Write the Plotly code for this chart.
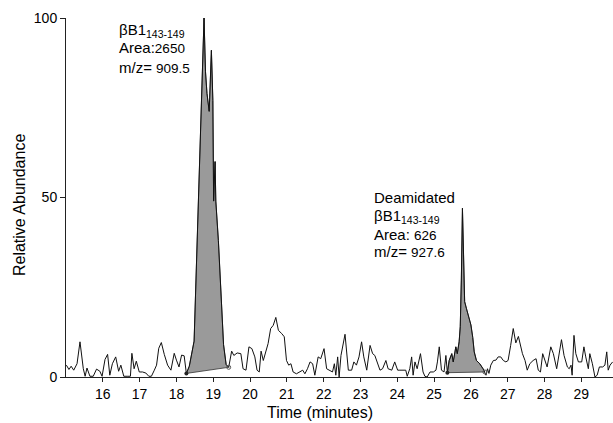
import plotly.graph_objects as go

# ---- data ----
time = [
    15.01, 15.08, 15.14, 15.21, 15.30, 15.38, 15.47, 15.52, 15.57, 15.65, 15.74, 15.83, 15.92, 15.98,
    16.06, 16.13, 16.19, 16.26, 16.35, 16.43, 16.49, 16.57, 16.66, 16.75, 16.79, 16.85, 16.91, 16.99,
    17.08, 17.17, 17.25, 17.32, 17.40, 17.46, 17.52, 17.59, 17.67, 17.76, 17.85, 17.94, 18.00, 18.07,
    18.14, 18.21, 18.27,
    18.35, 18.48, 18.55, 18.62, 18.68, 18.75, 18.79, 18.83, 18.89, 18.95, 18.99, 19.01, 19.05, 19.07,
    19.14, 19.20, 19.25, 19.28, 19.35, 19.42,
    19.50, 19.56, 19.65, 19.75, 19.81, 19.89, 19.97, 20.05, 20.13, 20.19, 20.25, 20.30, 20.36, 20.43,
    20.49, 20.56, 20.63, 20.70, 20.77, 20.86, 20.93, 20.99, 21.05, 21.11, 21.17, 21.26, 21.35, 21.43,
    21.49, 21.56, 21.63, 21.70, 21.76, 21.85, 21.92, 22.01, 22.08, 22.17, 22.24, 22.29, 22.33, 22.38,
    22.42, 22.47, 22.58, 22.67, 22.76, 22.82, 22.89, 22.96, 23.03, 23.09, 23.17, 23.26, 23.33, 23.39,
    23.45, 23.53, 23.60, 23.69, 23.75, 23.85, 23.93, 24.01, 24.07, 24.16, 24.23, 24.27, 24.34, 24.39,
    24.43, 24.48, 24.54, 24.63, 24.70, 24.75, 24.81, 24.89, 24.98, 25.05, 25.09, 25.14, 25.20, 25.27,
    25.32, 25.36,
    25.41, 25.48, 25.52, 25.59, 25.63, 25.68, 25.71, 25.74, 25.77, 25.80, 25.83, 25.88, 25.95, 26.00,
    26.05, 26.09, 26.15, 26.24, 26.33, 26.38,
    26.41, 26.45, 26.49, 26.54, 26.61, 26.68, 26.74, 26.81, 26.88, 26.95, 27.01, 27.08, 27.15, 27.22,
    27.29, 27.40, 27.47, 27.53, 27.60, 27.69, 27.77, 27.83, 27.89, 27.95, 28.01, 28.07, 28.17, 28.24,
    28.33, 28.40, 28.46, 28.53, 28.62, 28.67, 28.72, 28.75, 28.80, 28.85, 28.92, 29.01, 29.07, 29.12,
    29.19, 29.23, 29.30, 29.37, 29.43, 29.49, 29.58, 29.64, 29.69, 29.73, 29.78, 29.85,
]
abundance = [
    3.3, 2.1, 3.0, 1.9, 3.7, 9.8, 2.3, 0.2, 2.5, 0.2, 0.2, 2.2, 1.6, 0.2,
    4.9, 6.3, 0.5, 3.7, 5.6, 1.6, 3.3, 0.2, 0.2, 0.2, 6.6, 2.3, 4.4, 1.4,
    1.4, 1.1, 0.2, 0.2, 1.9, 3.3, 8.0, 9.6, 6.3, 3.3, 1.9, 6.6, 4.7, 2.8,
    6.1, 5.9, 1.0,
    3.0, 10.0, 33.0, 57.0, 78.0, 100.0, 85.0, 79.0, 74.0, 91.0, 77.0, 49.0, 60.0, 49.0,
    38.0, 27.0, 18.0, 9.0, 3.5, 2.7,
    7.2, 6.0, 6.7, 6.5, 2.3, 1.9, 8.4, 7.9, 5.6, 1.9, 1.4, 7.2, 4.6, 7.4,
    9.3, 13.5, 14.4, 16.6, 13.0, 12.1, 11.2, 4.6, 3.3, 3.7, 1.4, 0.9, 1.4, 1.9,
    0.9, 2.3, 4.2, 3.7, 0.5, 5.6, 5.1, 7.9, 2.3, 1.9, 1.4, 3.7, 0.5, 5.6,
    0.0, 6.0, 11.9, 1.9, 1.9, 4.2, 3.3, 5.6, 9.8, 5.6, 1.9, 8.8, 6.5, 6.0,
    4.2, 1.9, 2.3, 4.6, 2.3, 1.9, 4.2, 1.9, 1.9, 1.9, 1.9, 0.2, 2.3, 5.6,
    0.5, 4.2, 2.3, 6.5, 1.4, 0.2, 0.0, 1.4, 1.4, 1.9, 4.2, 8.4, 1.9, 1.4,
    6.0, 1.2,
    4.6, 6.5, 4.2, 8.4, 6.5, 9.8, 14.0, 27.0, 47.0, 34.0, 21.0, 19.0, 16.7, 14.5,
    11.0, 7.0, 4.6, 3.7, 2.3, 1.4,
    0.5, 2.3, 1.0, 3.3, 4.6, 4.7, 5.6, 5.6, 4.6, 4.2, 4.6, 8.8, 13.5, 9.5,
    11.3, 6.5, 4.6, 1.9, 3.7, 4.6, 5.1, 1.9, 1.4, 6.5, 4.6, 2.8, 8.4, 6.5,
    2.3, 6.5, 10.4, 6.0, 2.8, 2.3, 3.3, 0.5, 11.6, 6.5, 4.2, 4.2, 8.4, 5.6,
    2.3, 6.5, 3.7, 0.0, 0.5, 2.8, 2.8, 3.3, 7.0, 1.9, 3.3, 4.2,
]
peak_start = [18.27, 25.36]
peak_end = [19.42, 26.38]
x_ticks = list(range(16, 30))
y_ticks = [0, 50, 100]

FONT = "Arial, Liberation Sans, sans-serif"

fig = go.Figure()

# shaded integrated peaks
for s, e in zip(peak_start, peak_end):
    xs = [t for t in time if s <= t <= e]
    ys = [a for t, a in zip(time, abundance) if s <= t <= e]
    xs.append(xs[0])
    ys.append(ys[0])
    fig.add_trace(go.Scatter(x=xs, y=ys, mode="lines", fill="toself",
                             fillcolor="#9a9a9a", line=dict(color="#333", width=0.8),
                             hoverinfo="skip", showlegend=False))

# full chromatogram trace
fig.add_trace(go.Scatter(x=time, y=abundance, mode="lines",
                         line=dict(color="#111", width=1), showlegend=False))

# peak boundary markers
start_y = [abundance[time.index(s)] for s in peak_start]
end_y = [abundance[time.index(e)] for e in peak_end]
fig.add_trace(go.Scatter(x=peak_start, y=start_y, mode="markers",
                         marker=dict(size=4, color="#222", symbol="circle"),
                         showlegend=False, cliponaxis=False))
fig.add_trace(go.Scatter(x=peak_end, y=end_y, mode="markers",
                         marker=dict(size=4, color="#555", symbol="circle-open", line=dict(width=1)),
                         showlegend=False, cliponaxis=False))

def ann(text, x, y, size=15, **kw):
    d = dict(text=text, x=x, y=y, xref="paper", yref="paper", showarrow=False,
             xanchor="left", yanchor="middle", font=dict(family=FONT, size=size, color="black"))
    d.update(kw)
    return d

annotations = [
    ann("βB1<sub>143-149</sub>", 0.0932, 0.966),
    ann("Area:<span style='font-size:13.5px'>2650</span>", 0.0932, 0.918),
    ann("m/z= <span style='font-size:13.5px'>909.5</span>", 0.0932, 0.8635),
    ann("Deamidated", 0.5594, 0.500),
    ann("βB1<sub>143-149</sub>", 0.5594, 0.4460),
    ann("Area: <span style='font-size:13.5px'>626</span>", 0.5594, 0.3983),
    ann("m/z= <span style='font-size:13.5px'>927.6</span>", 0.5594, 0.3482),
    ann("Time (minutes)", 0.4644, -0.100, size=16, xanchor="center"),
    ann("Relative Abundance", -0.0859, 0.479, size=16, xanchor="center", textangle=-90),
]

fig.update_layout(
    width=613, height=423,
    margin=dict(l=66, r=0, t=18, b=46),
    paper_bgcolor="white", plot_bgcolor="white",
    font=dict(family=FONT, size=14, color="black"),
    annotations=annotations,
    showlegend=False,
)
fig.update_xaxes(range=[15, 29.86], tickvals=x_ticks, ticks="outside", ticklen=4,
                 tickcolor="#222", showline=True, linecolor="#222", linewidth=1,
                 showgrid=False, zeroline=False, tickfont=dict(size=14, family=FONT))
fig.update_yaxes(range=[0, 100], tickvals=y_ticks, ticks="outside", ticklen=5,
                 tickcolor="#222", showline=True, linecolor="#222", linewidth=1,
                 showgrid=False, zeroline=False, tickfont=dict(size=14, family=FONT))

fig.write_html("out.html")
